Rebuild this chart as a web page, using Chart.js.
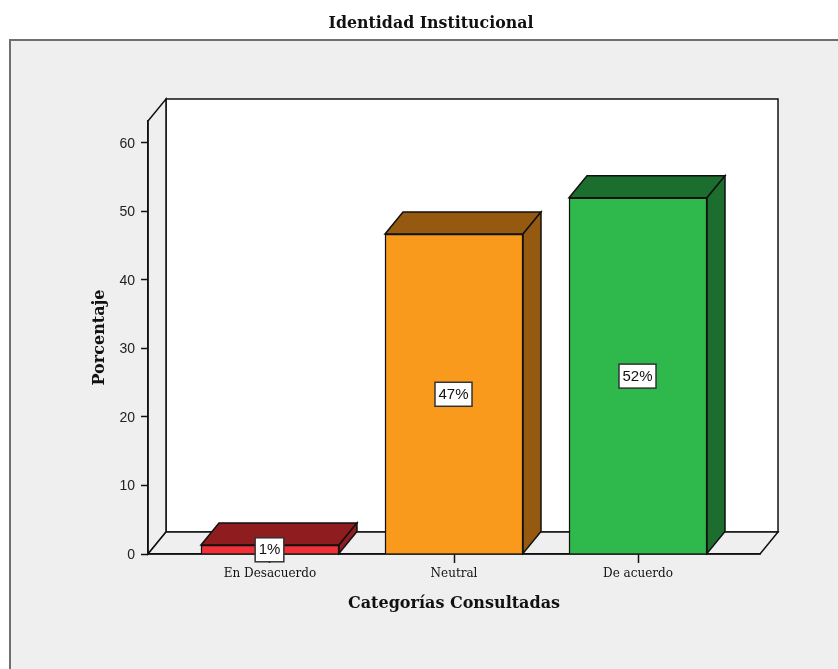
<!DOCTYPE html>
<html lang="es">
<head>
    <meta charset="UTF-8">
    <title>Identidad Institucional</title>
    <script src="https://cdn.jsdelivr.net/npm/chart.js@4"></script>
    <style>
      html, body { margin: 0; padding: 0; background: #fff; overflow: hidden; }
      canvas { display: block; }
    </style>
</head>
<body>
    <canvas id="barChart" width="838" height="669"></canvas>

    <script>
        const chartTitle = 'Identidad Institucional';
        const categories = ['En Desacuerdo', 'Neutral', 'De acuerdo'];
        const percentages = [1.3, 46.7, 52];
        const barLabels = ['1%', '47%', '52%'];
        const yTicks = [0, 10, 20, 30, 40, 50, 60];

        const frontColors = ['#f0313a', '#fa9a1d', '#2fb84c'];
        const depthColors = ['#8f1d20', '#955a10', '#1b6e2e'];

        const panelColor = '#efefef';
        const lineColor = '#111111';
        const titleFont = { family: '"DejaVu Serif"', size: 16, weight: 'bold' };
        const depthX = 18;
        const depthY = -22;

        // panel + back walls of the 3d box
        const wallsPlugin = {
            id: 'walls',
            beforeDraw(chart) {
                const { ctx, chartArea: a, width, height } = chart;
                ctx.save();
                ctx.fillStyle = '#111111';
                ctx.font = 'bold 15.8px "DejaVu Serif"';
                ctx.textAlign = 'center';
                ctx.textBaseline = 'middle';
                ctx.fillText(chartTitle, 431, 24);

                ctx.fillStyle = panelColor;
                ctx.fillRect(10, 40, width - 10, height - 40);
                ctx.strokeStyle = '#6f6f6f';
                ctx.lineWidth = 2;
                ctx.beginPath();
                ctx.moveTo(10, height);
                ctx.lineTo(10, 40);
                ctx.lineTo(width, 40);
                ctx.stroke();

                ctx.strokeStyle = lineColor;
                ctx.lineWidth = 1.5;
                ctx.fillStyle = '#ffffff';
                ctx.fillRect(a.left + depthX, a.top + depthY, a.width, a.height);
                ctx.strokeRect(a.left + depthX, a.top + depthY, a.width, a.height);

                // left wall
                polygon(ctx, [[a.left, a.top], [a.left + depthX, a.top + depthY],
                    [a.left + depthX, a.bottom + depthY], [a.left, a.bottom]], panelColor);
                // floor
                polygon(ctx, [[a.left, a.bottom], [a.left + depthX, a.bottom + depthY],
                    [a.right + depthX, a.bottom + depthY], [a.right, a.bottom]], panelColor);
                ctx.restore();
            },
            beforeDatasetsDraw(chart) {
                const { ctx } = chart;
                ctx.save();
                ctx.strokeStyle = lineColor;
                ctx.lineWidth = 1.5;
                chart.getDatasetMeta(0).data.forEach((bar, i) => {
                    const l = bar.x - bar.width / 2;
                    const r = bar.x + bar.width / 2;
                    polygon(ctx, [[l, bar.y], [l + depthX, bar.y + depthY],
                        [r + depthX, bar.y + depthY], [r, bar.y]], depthColors[i]);
                    polygon(ctx, [[r, bar.y], [r + depthX, bar.y + depthY],
                        [r + depthX, bar.base + depthY], [r, bar.base]], depthColors[i]);
                });
                ctx.restore();
            },
            afterDatasetsDraw(chart) {
                const { ctx } = chart;
                ctx.save();
                ctx.font = '15px "Liberation Sans"';
                ctx.textAlign = 'center';
                ctx.textBaseline = 'middle';
                chart.getDatasetMeta(0).data.forEach((bar, i) => {
                    const cx = bar.x - 0.5;
                    const cy = (bar.y + bar.base) / 2 + 0.5;
                    const w = ctx.measureText(barLabels[i]).width + 7;
                    ctx.fillStyle = '#ffffff';
                    ctx.strokeStyle = '#333333';
                    ctx.lineWidth = 1.5;
                    ctx.fillRect(cx - w / 2, cy - 12, w, 24);
                    ctx.strokeRect(cx - w / 2, cy - 12, w, 24);
                    ctx.fillStyle = '#111111';
                    ctx.fillText(barLabels[i], cx, cy + 0.5);
                });
                ctx.restore();
            }
        };

        function polygon(ctx, pts, fill) {
            ctx.beginPath();
            pts.forEach((p, i) => i ? ctx.lineTo(p[0], p[1]) : ctx.moveTo(p[0], p[1]));
            ctx.closePath();
            ctx.fillStyle = fill;
            ctx.fill();
            ctx.stroke();
        }

        new Chart(document.getElementById('barChart'), {
            type: 'bar',
            data: {
                datasets: [{
                    data: percentages.map((v, i) => ({ x: i, y: v })),
                    backgroundColor: frontColors,
                    borderColor: lineColor,
                    borderWidth: 1.5,
                    barThickness: 138
                }]
            },
            plugins: [wallsPlugin],
            options: {
                responsive: false,
                animation: false,
                layout: { padding: { left: 0, right: 78, top: 121, bottom: 0 } },
                plugins: {
                    legend: { display: false },
                    tooltip: { enabled: false },
                    title: { display: false }
                },
                scales: {
                    x: {
                        type: 'linear',
                        offset: false,
                        min: -0.663,
                        max: 2.663,
                        afterBuildTicks: scale => { scale.ticks = categories.map((c, i) => ({ value: i })); },
                        afterFit: scale => { scale.height = 115; },
                        grid: { offset: false, drawOnChartArea: false, tickLength: 9, color: lineColor, tickWidth: 1.5 },
                        border: { color: lineColor, width: 1.5 },
                        ticks: {
                            autoSkip: false,
                            maxRotation: 0,
                            padding: 4,
                            color: '#111111',
                            font: { family: '"DejaVu Serif"', size: 12 },
                            callback: value => categories[value]
                        },
                        title: {
                            display: true,
                            text: 'Categorías Consultadas',
                            color: '#111111',
                            font: titleFont,
                            padding: { top: 0, bottom: 56 }
                        }
                    },
                    y: {
                        min: 0,
                        max: 63.2,
                        afterBuildTicks: scale => { scale.ticks = yTicks.map(value => ({ value })); },
                        afterFit: scale => { scale.width = 148; },
                        grid: { drawOnChartArea: false, tickLength: 7, color: lineColor, tickWidth: 1.5 },
                        border: { color: lineColor, width: 1.5 },
                        ticks: {
                            padding: 6,
                            labelOffset: 1,
                            color: '#222222',
                            font: { family: '"Liberation Sans"', size: 14 }
                        },
                        title: {
                            display: true,
                            text: 'Porcentaje',
                            color: '#111111',
                            font: titleFont,
                            padding: { top: 90, bottom: 0 }
                        }
                    }
                }
            }
        });
    </script>
</body>
</html>
